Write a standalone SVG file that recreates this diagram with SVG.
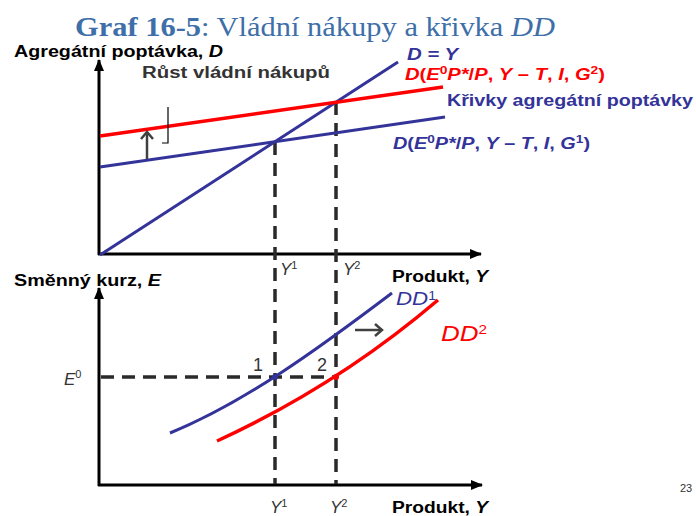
<svg xmlns="http://www.w3.org/2000/svg" width="696" height="516" viewBox="0 0 696 516">
<defs>
<style>
text{font-family:"Liberation Sans",Arial,sans-serif}
.ax{stroke:#000;stroke-width:3;fill:none}
.dash{stroke:#2a2a2a;stroke-width:3.5;stroke-dasharray:13 8;fill:none}
.blue{stroke:#333399;stroke-width:3;fill:none}
.red{stroke:#ff0000;stroke-width:3.5;fill:none}
.sm{stroke:#404040;stroke-width:2.5;fill:none}
.lb{font-weight:bold;font-size:16px}
.bl{fill:#333399}
.rd{fill:#ff0000}
.it{font-style:italic}
.yl{font-size:17px;font-style:italic;fill:#333}
</style>
<marker id="ah" markerWidth="12" markerHeight="10" refX="11" refY="5" orient="auto" markerUnits="userSpaceOnUse">
<path d="M0,0 L12,5 L0,10 Z" fill="#000"/>
</marker>
</defs>
<rect width="696" height="516" fill="#fff"/>

<g id="title">
<text x="75" y="36" font-size="27" fill="#3e6fa8" textLength="480" lengthAdjust="spacingAndGlyphs" style="font-family:'Liberation Serif',serif"><tspan font-weight="bold">Graf 16-5</tspan>: Vládní nákupy a křivka <tspan font-style="italic">DD</tspan></text>
</g>

<g id="axes">
<line class="ax" x1="99" y1="255" x2="99" y2="60" marker-end="url(#ah)"/>
<line class="ax" x1="98" y1="254" x2="481" y2="254" marker-end="url(#ah)"/>
<line class="ax" x1="99" y1="486" x2="99" y2="288" marker-end="url(#ah)"/>
<line class="ax" x1="98" y1="485" x2="482" y2="485" marker-end="url(#ah)"/>
</g>

<g id="connectors">
<line class="dash" x1="275" y1="142" x2="275" y2="484"/>
<line class="dash" x1="336" y1="102" x2="336" y2="484"/>
<line class="dash" x1="101" y1="377" x2="336" y2="377"/>
</g>

<g id="curve-DY">
<line class="blue" x1="100" y1="255" x2="398" y2="62"/>
</g>
<g id="curve-AD1">
<line class="blue" x1="100" y1="167" x2="445" y2="117"/>
</g>
<g id="curve-AD2">
<line class="red" x1="100" y1="136" x2="443" y2="87"/>
</g>
<g id="curve-DD1">
<path class="blue" d="M170,433 C244,403 318,349 392,293"/>
<circle cx="275" cy="377" r="3" fill="#333399"/>
</g>
<g id="curve-DD2">
<path class="red" d="M217,441 C291,407 364,363 438,300"/>
<circle cx="336" cy="377" r="3" fill="#ff0000"/>
</g>

<g id="shift-arrows">
<line class="sm" x1="147" y1="159" x2="147" y2="132"/>
<polyline class="sm" points="141,139 147,132 153,139"/>
<polyline points="168,107 168,143 162,143" stroke="#000" stroke-width="1.2" fill="none"/>
<line class="sm" x1="355" y1="330" x2="382" y2="330"/>
<polyline class="sm" points="375,324 382,330 375,336"/>
</g>

<g id="labels">
<text class="lb" x="14" y="57" textLength="209" lengthAdjust="spacingAndGlyphs">Agregátní poptávka, <tspan class="it">D</tspan></text>
<text class="lb" x="142" y="78" fill="#333" textLength="188" lengthAdjust="spacingAndGlyphs">Růst vládní nákupů</text>
<text class="lb bl it" x="407" y="60" font-size="17" textLength="51" lengthAdjust="spacingAndGlyphs">D = Y</text>
<text class="lb rd" x="405" y="80" font-size="17" textLength="200" lengthAdjust="spacingAndGlyphs"><tspan class="it">D</tspan>(<tspan class="it">E</tspan><tspan font-size="11" dy="-6">0</tspan><tspan class="it" dy="6">P*</tspan>/<tspan class="it">P</tspan>, <tspan class="it">Y</tspan> – <tspan class="it">T</tspan>, <tspan class="it">I</tspan>, <tspan class="it">G</tspan><tspan font-size="11" dy="-6">2</tspan><tspan dy="6">)</tspan></text>
<text class="lb bl" x="447" y="106" textLength="246" lengthAdjust="spacingAndGlyphs">Křivky agregátní poptávky</text>
<text class="lb bl" x="393" y="149" font-size="17" textLength="197" lengthAdjust="spacingAndGlyphs"><tspan class="it">D</tspan>(<tspan class="it">E</tspan><tspan font-size="11" dy="-6">0</tspan><tspan class="it" dy="6">P*</tspan>/<tspan class="it">P</tspan>, <tspan class="it">Y</tspan> – <tspan class="it">T</tspan>, <tspan class="it">I</tspan>, <tspan class="it">G</tspan><tspan font-size="11" dy="-6">1</tspan><tspan dy="6">)</tspan></text>

<text class="yl" x="280" y="275">Y<tspan font-size="11" font-style="normal" dy="-6">1</tspan></text>
<text class="yl" x="343" y="275">Y<tspan font-size="11" font-style="normal" dy="-6">2</tspan></text>
<text class="lb" x="392" y="282" textLength="96" lengthAdjust="spacingAndGlyphs">Produkt, <tspan class="it">Y</tspan></text>

<text class="lb" x="14" y="286" textLength="147" lengthAdjust="spacingAndGlyphs">Směnný kurz, <tspan class="it">E</tspan></text>
<text class="yl" x="64" y="385" font-size="18">E<tspan font-size="11" font-style="normal" dy="-7">0</tspan></text>
<text x="253" y="371" font-size="18" fill="#333">1</text>
<text x="317" y="371" font-size="18" fill="#333">2</text>
<text x="396" y="305" font-size="19" class="it bl" textLength="40" lengthAdjust="spacingAndGlyphs">DD<tspan font-size="12" font-style="normal" dy="-5">1</tspan></text>
<text x="441" y="341" font-size="22" class="it rd" textLength="46" lengthAdjust="spacingAndGlyphs">DD<tspan font-size="13" font-style="normal" dy="-7">2</tspan></text>

<text class="yl" x="270" y="513">Y<tspan font-size="11" font-style="normal" dy="-6">1</tspan></text>
<text class="yl" x="330" y="513">Y<tspan font-size="11" font-style="normal" dy="-6">2</tspan></text>
<text class="lb" x="392" y="513" textLength="96" lengthAdjust="spacingAndGlyphs">Produkt, <tspan class="it">Y</tspan></text>

<text x="680" y="492" font-size="11" fill="#333">23</text>
</g>
</svg>
